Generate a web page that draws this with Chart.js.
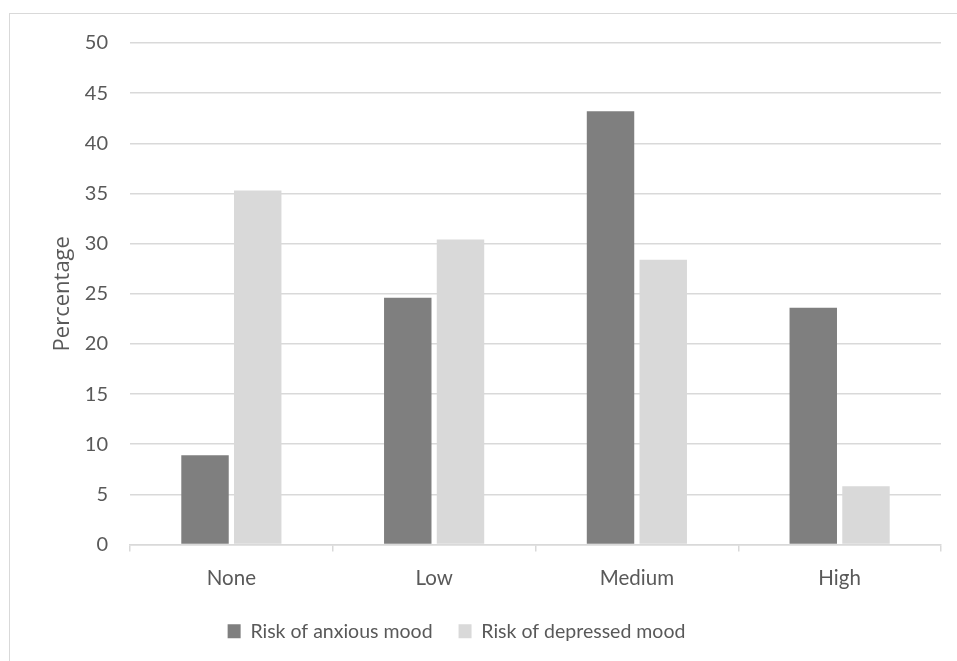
<!DOCTYPE html>
<html>
<head>
<meta charset="utf-8">
<script src="https://cdn.jsdelivr.net/npm/chart.js@4"></script>
<style>
  html, body { margin: 0; padding: 0; background: #fff; }
  #frame {
    position: absolute; left: 9px; top: 13px; width: 960px; height: 660px;
    border-left: 1px solid #d9d9d9; border-top: 1px solid #d9d9d9;
  }
  #wrap { position: absolute; left: 0; top: 0; width: 957px; height: 661px; }
</style>
</head>
<body>
<div id="frame"></div>
<div id="wrap"><canvas id="chart" width="957" height="661"></canvas></div>
<script>
var categories = ['None', 'Low', 'Medium', 'High'];
var anxious = [8.9, 24.6, 43.2, 23.6];
var depressed = [35.3, 30.4, 28.4, 5.8];
var seriesNames = ['Risk of anxious mood', 'Risk of depressed mood'];

// legend sits a little left of the plot centre
var shiftLegend = {
    id: 'shiftLegend',
    afterLayout: function(chart) {
        chart.legend.left -= 37;
        chart.legend.right -= 37;
    }
};

document.addEventListener('DOMContentLoaded', function() {
    var ctx = document.getElementById('chart').getContext('2d');
    var textColor = '#595959';
    var lineColor = '#d9d9d9';

    new Chart(ctx, {
        type: 'bar',
        data: {
            labels: categories,
            datasets: [{
                label: seriesNames[0],
                data: anxious,
                backgroundColor: '#7f7f7f',
                borderWidth: 0
            }, {
                label: seriesNames[1],
                data: depressed,
                backgroundColor: '#d9d9d9',
                borderWidth: 0
            }]
        },
        plugins: [shiftLegend],
        options: {
            responsive: false,
            animation: false,
            datasets: {
                bar: { categoryPercentage: 0.52, barPercentage: 0.9 }
            },
            layout: { padding: { left: 46, top: 43, right: 16, bottom: 10 } },
            plugins: {
                tooltip: { enabled: false },
                legend: {
                    position: 'bottom',
                    labels: {
                        color: textColor,
                        font: { family: 'Lato', size: 19.5 },
                        boxWidth: 13,
                        boxHeight: 14,
                        padding: 26
                    }
                }
            },
            scales: {
                x: {
                    afterFit: function(scale) { scale.height = 51; },
                    grid: {
                        display: true,
                        drawOnChartArea: false,
                        drawTicks: true,
                        tickLength: 7,
                        color: lineColor,
                        lineWidth: 1.5
                    },
                    border: { color: lineColor, width: 1.5 },
                    ticks: {
                        color: textColor,
                        font: { family: 'Lato', size: 20.5 },
                        padding: 15
                    }
                },
                y: {
                    min: 0,
                    max: 50,
                    afterFit: function(scale) { scale.width = 84; },
                    ticks: {
                        stepSize: 5,
                        color: textColor,
                        font: { family: 'Lato', size: 20 },
                        padding: 22
                    },
                    grid: {
                        color: lineColor,
                        lineWidth: 1.5,
                        drawTicks: false
                    },
                    border: { display: false },
                    title: {
                        display: true,
                        text: 'Percentage',
                        color: textColor,
                        font: { family: 'Open Sans', size: 22 },
                        padding: { top: 4, bottom: 4 }
                    }
                }
            }
        }
    });
});
</script>
</body>
</html>
